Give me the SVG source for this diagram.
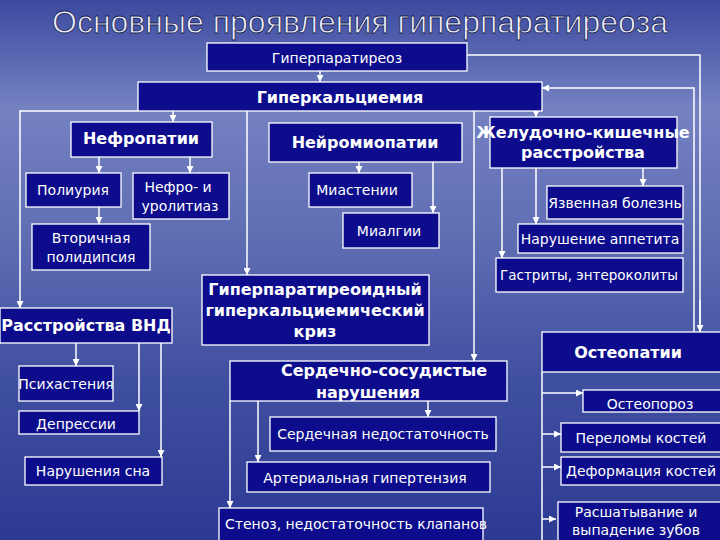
<svg xmlns="http://www.w3.org/2000/svg" width="720" height="540" viewBox="0 0 720 540">
<defs>
<linearGradient id="bg" x1="0" y1="0" x2="0" y2="1">
<stop offset="0" stop-color="#3c4aa0"/>
<stop offset="0.2" stop-color="#7482c2"/>
<stop offset="0.45" stop-color="#5e6cb2"/>
<stop offset="0.7" stop-color="#4050a0"/>
<stop offset="1" stop-color="#2c3a94"/>
</linearGradient>
<marker id="ar" viewBox="0 0 10 10" refX="10" refY="5" markerWidth="7" markerHeight="7" orient="auto" markerUnits="userSpaceOnUse">
<path d="M0,0 L10,5 L0,10 z" fill="#fff"/>
</marker>
<style>
.b{fill:#0c0c8c;stroke:#fff;stroke-width:1.3}
.t{fill:#fff;font-family:"DejaVu Sans",sans-serif;font-size:14px;text-anchor:middle}
.k{fill:#fff;font-family:"DejaVu Sans",sans-serif;font-size:16px;font-weight:bold;text-anchor:middle}
.c{stroke:#fff;stroke-width:1.5;fill:none}
.a{marker-end:url(#ar)}
</style>
</defs>
<rect width="720" height="540" fill="url(#bg)"/>
<text x="360" y="33" font-family="'Liberation Sans',sans-serif" font-size="32" fill="#eef0ff" stroke="#1a1f50" stroke-width="0.8" text-anchor="middle">Основные проявления гиперпаратиреоза</text>
<g id="connectors">
<path class="c a" d="M320,71 V82"/>
<path class="c" d="M467,55 H700 V332"/>
<path class="c a" d="M700,300 V332"/>
<path class="c a" d="M694,332 V88 H542"/>
<path class="c a" d="M138,111 H20 V308"/>
<path class="c a" d="M173,111 V122"/>
<path class="c a" d="M247,111 V275"/>
<path class="c a" d="M474,111 V361"/>
<path class="c a" d="M536,111 V117"/>
<path class="c a" d="M99,157 V173"/>
<path class="c a" d="M190,157 V173"/>
<path class="c a" d="M99,207 V224"/>
<path class="c a" d="M359,162 V173"/>
<path class="c a" d="M433,162 V213"/>
<path class="c a" d="M643,168 V186"/>
<path class="c a" d="M536,168 V224"/>
<path class="c a" d="M502,168 V258"/>
<path class="c a" d="M76,343 V366"/>
<path class="c a" d="M139,343 V411"/>
<path class="c a" d="M161,343 V457"/>
<path class="c a" d="M428,401 V417"/>
<path class="c a" d="M258,401 V462"/>
<path class="c a" d="M230,401 V508"/>
<path class="c" d="M542,372 V540"/>
<path class="c a" d="M542,393 H583"/>
<path class="c a" d="M542,434 H561"/>
<path class="c a" d="M542,467 H561"/>
<path class="c a" d="M542,519 H556"/>
</g>
<g id="n1"><rect class="b" x="207" y="43" width="260" height="28"/><text class="t" x="337" y="63">Гиперпаратиреоз</text></g>
<g id="n2"><rect class="b" x="138" y="82" width="404" height="29"/><text class="k" x="340" y="103">Гиперкальциемия</text></g>
<g id="n3"><rect class="b" x="71" y="122" width="141" height="35"/><text class="k" x="141" y="144">Нефропатии</text></g>
<g id="n4"><rect class="b" x="269" y="123" width="193" height="39"/><text class="k" x="365" y="148">Нейромиопатии</text></g>
<g id="n5"><rect class="b" x="490" y="117" width="187" height="51"/><text class="k" x="583" y="138" font-size="14">Желудочно-кишечные</text><text class="k" x="583" y="158" font-size="14">расстройства</text></g>
<g id="n6"><rect class="b" x="26" y="173" width="95" height="34"/><text class="t" x="73" y="195">Полиурия</text></g>
<g id="n7"><rect class="b" x="133" y="173" width="96" height="46"/><text class="t" x="178" y="192">Нефро- и</text><text class="t" x="180" y="211">уролитиаз</text></g>
<g id="n8"><rect class="b" x="309" y="173" width="103" height="34"/><text class="t" x="357" y="195">Миастении</text></g>
<g id="n9"><rect class="b" x="343" y="213" width="96" height="35"/><text class="t" x="389" y="236">Миалгии</text></g>
<g id="n10"><rect class="b" x="547" y="186" width="136" height="33"/><text class="t" x="615" y="208">Язвенная болезнь</text></g>
<g id="n11"><rect class="b" x="32" y="224" width="118" height="46"/><text class="t" x="91" y="243">Вторичная</text><text class="t" x="91" y="262">полидипсия</text></g>
<g id="n12"><rect class="b" x="518" y="224" width="165" height="29"/><text class="t" x="600" y="244">Нарушение аппетита</text></g>
<g id="n13"><rect class="b" x="496" y="258" width="187" height="34"/><text class="t" x="589" y="280" textLength="178" lengthAdjust="spacingAndGlyphs">Гастриты, энтероколиты</text></g>
<g id="n14"><rect class="b" x="202" y="275" width="227" height="70"/><text class="k" x="315" y="295">Гиперпаратиреоидный</text><text class="k" x="315" y="316">гиперкальциемический</text><text class="k" x="315" y="337">криз</text></g>
<g id="n15"><rect class="b" x="0" y="308" width="172" height="35"/><text class="k" x="86" y="331">Расстройства ВНД</text></g>
<g id="n16"><rect class="b" x="542" y="332" width="180" height="40"/><text class="k" x="628" y="358">Остеопатии</text></g>
<g id="n17"><rect class="b" x="230" y="361" width="277" height="40"/><text class="k" x="384" y="376">Сердечно-сосудистые</text><text class="k" x="368" y="398">нарушения</text></g>
<g id="n18"><rect class="b" x="19" y="366" width="94" height="35"/><text class="t" x="66" y="389">Психастения</text></g>
<g id="n19"><rect class="b" x="583" y="390" width="139" height="22"/><text class="t" x="650" y="409">Остеопороз</text></g>
<g id="n20"><rect class="b" x="19" y="411" width="120" height="23"/><text class="t" x="76" y="429">Депрессии</text></g>
<g id="n21"><rect class="b" x="270" y="417" width="226" height="34"/><text class="t" x="383" y="439">Сердечная недостаточность</text></g>
<g id="n22"><rect class="b" x="561" y="423" width="161" height="29"/><text class="t" x="641" y="443">Переломы костей</text></g>
<g id="n23"><rect class="b" x="25" y="457" width="137" height="28"/><text class="t" x="93" y="476">Нарушения сна</text></g>
<g id="n24"><rect class="b" x="561" y="457" width="161" height="28"/><text class="t" x="641" y="476" textLength="150" lengthAdjust="spacingAndGlyphs">Деформация костей</text></g>
<g id="n25"><rect class="b" x="247" y="462" width="243" height="30"/><text class="t" x="365" y="483">Артериальная гипертензия</text></g>
<g id="n26"><rect class="b" x="219" y="508" width="264" height="34"/><text class="t" x="356" y="529">Стеноз, недостаточность клапанов</text></g>
<g id="n27"><rect class="b" x="558" y="502" width="164" height="40"/><text class="t" x="636" y="517">Расшатывание и</text><text class="t" x="636" y="535">выпадение зубов</text></g>
</svg>
